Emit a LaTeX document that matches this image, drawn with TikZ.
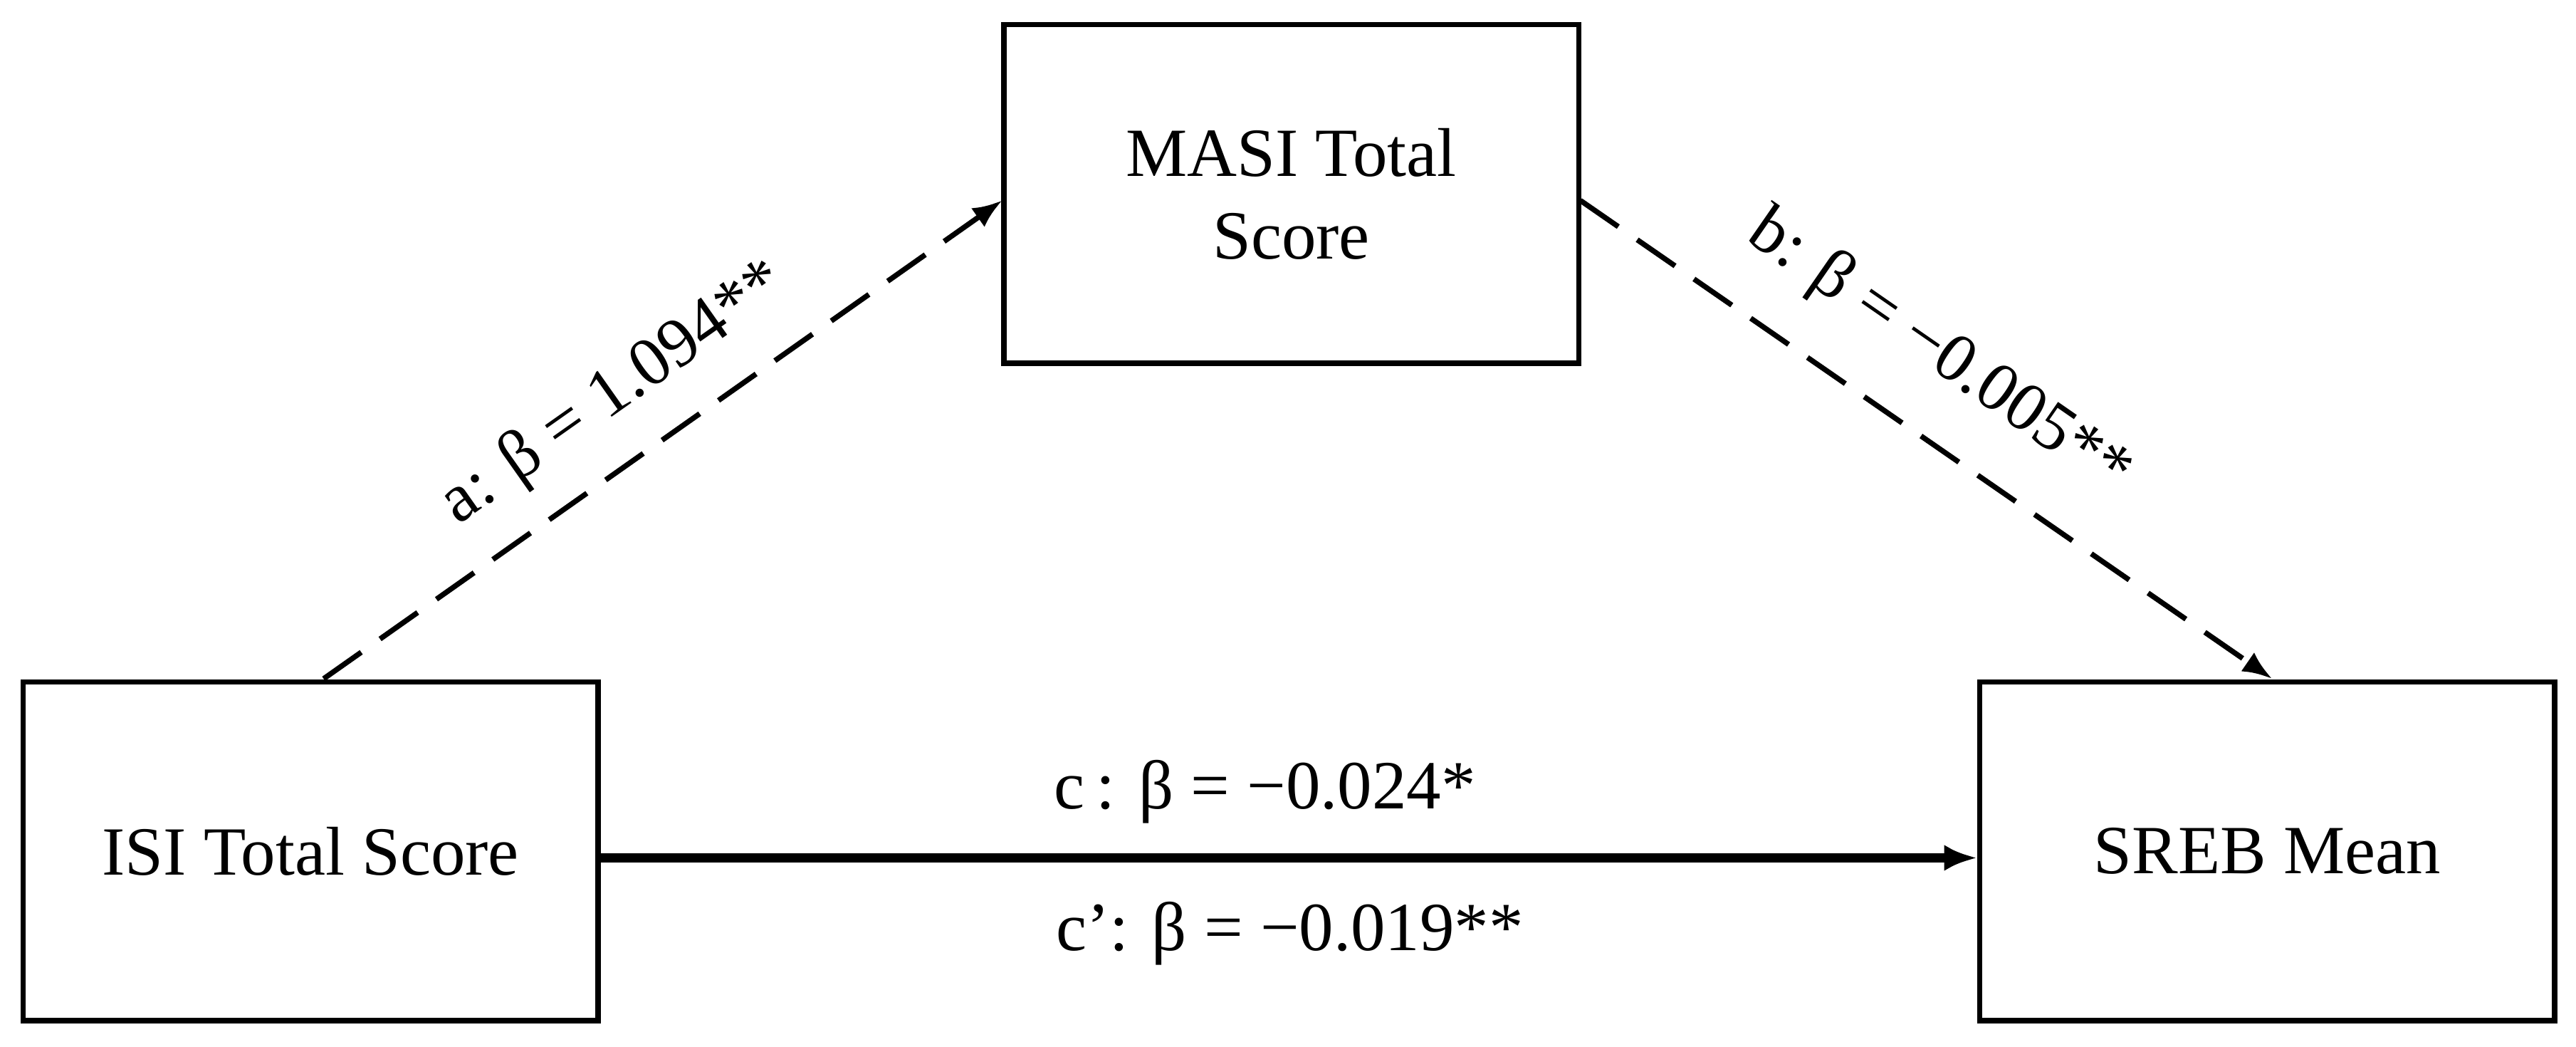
\documentclass[tikz,border=0pt]{standalone}
\usepackage{fontspec}
\usetikzlibrary{arrows.meta}
\setmainfont{Liberation Serif}
\begin{document}
\begin{tikzpicture}[x=0.5pt,y=-0.5pt,
  box/.style={draw,line width=1.6pt,minimum width=175pt,minimum height=103pt,align=center,font=\fontsize{21}{25}\selectfont},
  lbl/.style={font=\fontsize{21}{25}\selectfont},
  dashline/.style={line width=1.6pt,dash pattern=on 14pt off 7pt,-{Latex[length=9pt,width=7pt]}}]
\useasboundingbox (0,0) rectangle (1568,637);
\node[box] (masi) at (786,118) {MASI Total\\Score};
\node[box] (isi) at (189,518) {ISI Total Score};
\node[box] (sreb) at (1380,518) {SREB Mean};
\coordinate (as) at (197,413);
\coordinate (ae) at (610,122);
\coordinate (bs) at (962,122);
\coordinate (be) at (1383,413);
\draw[dashline] (as) -- (ae);
\draw[dashline] (bs) -- (be);
\draw[line width=2.8pt,-{Latex[length=10pt,width=8pt]}] (isi.east |- 0,522) -- (sreb.west |- 0,522);
\node[lbl,rotate=35.2] (la) at (374,240) {a: β = 1.094**};
\node[lbl,rotate=-34.7] (lb) at (1180,215) {b: β = −0.005**};
\node[lbl] (lc) at (770,482) {c\,: β = −0.024*};
\node[lbl] (lc2) at (785,568) {c’: β = −0.019**};
\end{tikzpicture}
\end{document}
